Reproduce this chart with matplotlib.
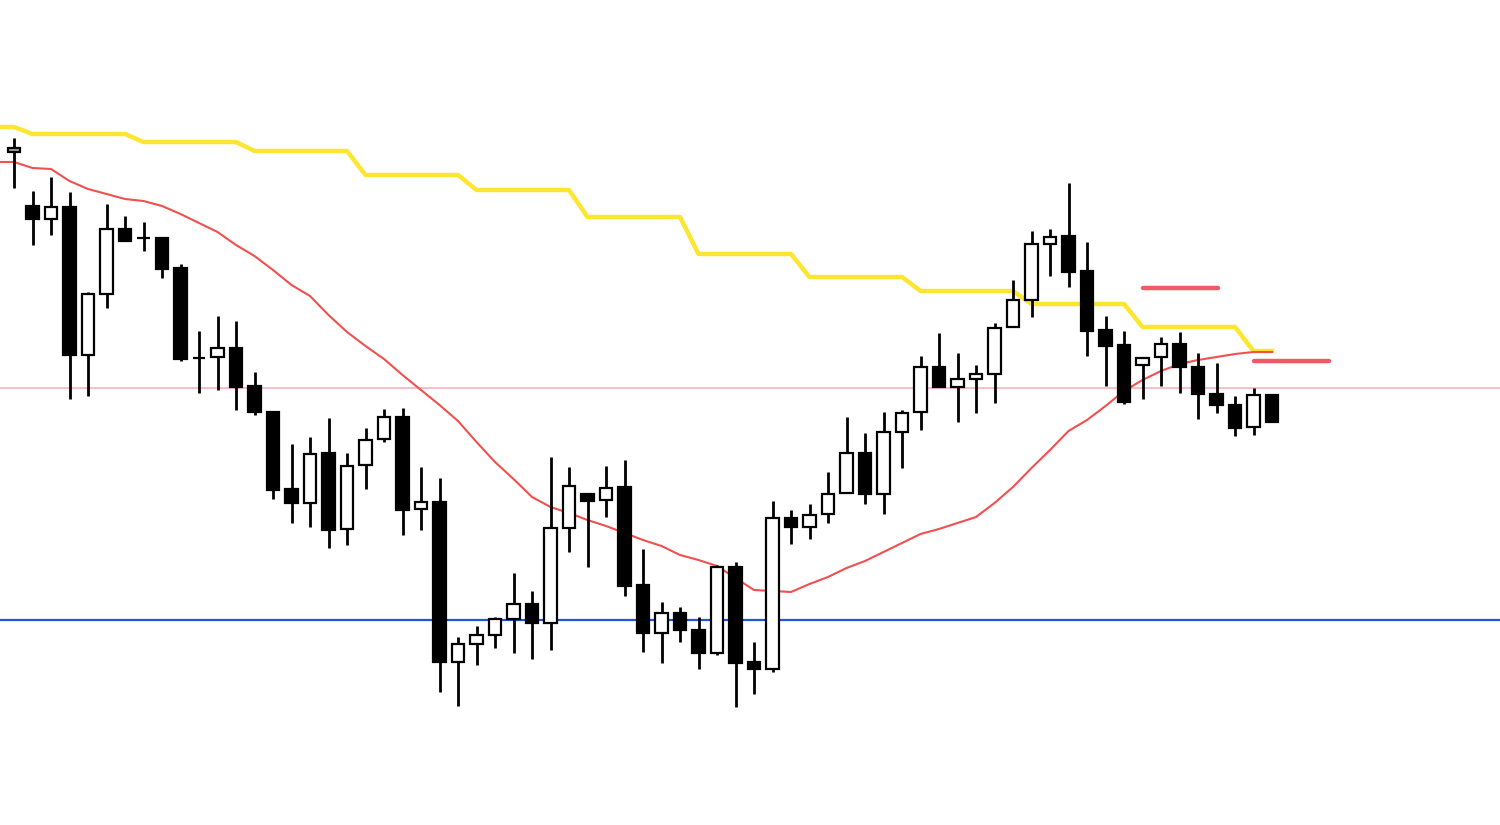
import numpy as np
import matplotlib
matplotlib.use("Agg")
import matplotlib.pyplot as plt

# candle data (arbitrary price units), one entry per bar
opens = [673, 619, 606, 618, 470, 531, 596, 587, 587, 557, 467, 468, 477, 439, 413, 336, 322, 372, 296, 360,
         386, 408, 316, 323, 163, 181, 190, 206, 221, 202, 297, 331, 325, 338, 240, 192, 212, 195, 172, 258,
         163, 156, 307, 298, 311, 332, 372, 331, 393, 413, 458, 438, 446, 451, 498, 525, 581, 589, 554, 495,
         480, 460, 468, 481, 458, 431, 420, 398, 430]
highs = [687, 634, 648, 633, 533, 621, 609, 603, 587, 561, 494, 509, 504, 453, 413, 381, 388, 407, 372, 397,
         416, 417, 358, 347, 188, 199, 208, 252, 234, 368, 358, 331, 359, 365, 276, 223, 218, 208, 260, 263,
         183, 324, 315, 321, 353, 408, 392, 413, 415, 469, 492, 472, 460, 502, 545, 594, 596, 642, 583, 509,
         494, 467, 488, 493, 472, 462, 429, 437, 430]
lows = [637, 580, 590, 426, 429, 517, 584, 574, 547, 464, 432, 435, 415, 410, 326, 302, 298, 277, 280, 336,
        383, 290, 295, 133, 119, 160, 177, 172, 166, 175, 273, 258, 308, 229, 173, 162, 183, 156, 170, 118,
        131, 153, 281, 286, 302, 332, 321, 311, 357, 395, 438, 403, 412, 422, 498, 508, 549, 538, 469, 439,
        421, 426, 439, 432, 406, 412, 389, 390, 403]
closes = [677, 606, 618, 470, 531, 596, 584, 587, 556, 466, 467, 477, 438, 413, 335, 322, 371, 295, 359, 385,
          408, 315, 323, 163, 181, 190, 206, 221, 202, 297, 339, 324, 337, 239, 192, 212, 195, 172, 258, 162,
          156, 307, 298, 310, 331, 372, 331, 393, 412, 458, 438, 446, 451, 497, 525, 581, 588, 553, 494, 479,
          423, 467, 481, 458, 431, 420, 397, 430, 403]

# moving averages (first value is the bar just off the left edge)
ma_red = [663, 663, 657, 656, 644, 636, 631, 626, 624, 619, 611, 602, 593, 580, 569, 555, 540, 529, 510, 493,
          479, 466, 450, 435, 420, 404, 383, 363, 346, 328, 318, 312, 305, 299, 292, 285, 279, 270, 265, 259,
          247, 235, 234, 233, 241, 248, 257, 264, 273, 282, 291, 296, 302, 308, 322, 338, 357, 375, 394, 405,
          419, 434, 445, 454, 461, 465, 468, 471, 473, 473]
ma_yellow = [698, 698] + [691] * 6 + [683] * 6 + [674] * 6 + [650] * 6 + [635] * 6 + [608] * 6 + \
            [571] * 6 + [548] * 6 + [534] * 6 + [521] * 6 + [498] * 6 + [474] * 2

# horizontal levels
level_blue = 205
level_pink = 437
red_marks = [(537, 61.0, 65.1), (464, 67.0, 71.1)]

n = len(opens)
x = np.arange(n)

fig = plt.figure(figsize=(15, 8.25), dpi=100)
ax = fig.add_axes([0, 0, 1, 1])
ax.set_xlim(-14 / 18.5, (1500 - 14) / 18.5)
ax.set_ylim(0, 825)
ax.axis("off")

ax.axhline(level_pink, color="#f7b3bd", lw=1.2, zorder=1)
ax.axhline(level_blue, color="#2256d8", lw=1.6, zorder=1)

xm = np.arange(-1, n)
ax.plot(xm, ma_yellow, color="#fde530", lw=3.2, zorder=2, solid_joinstyle="round")
ax.plot(xm, ma_red, color="#f0504f", lw=1.5, zorder=2)

for lvl, x0, x1 in red_marks:
    ax.plot([x0, x1], [lvl, lvl], color="#ef5a64", lw=3.2, zorder=2, solid_capstyle="round")

# candles
ax.vlines(x, lows, highs, color="black", lw=2, zorder=3)
for i in range(n):
    o, c = opens[i], closes[i]
    fc = "white" if c > o else "black"
    if i == 0:
        fc = "#a8a8a8"
    ax.bar(i, abs(c - o), bottom=min(o, c), width=0.68, color=fc, edgecolor="black",
           linewidth=1.6, zorder=4)

fig.savefig("out.png", dpi=100, facecolor="white")
